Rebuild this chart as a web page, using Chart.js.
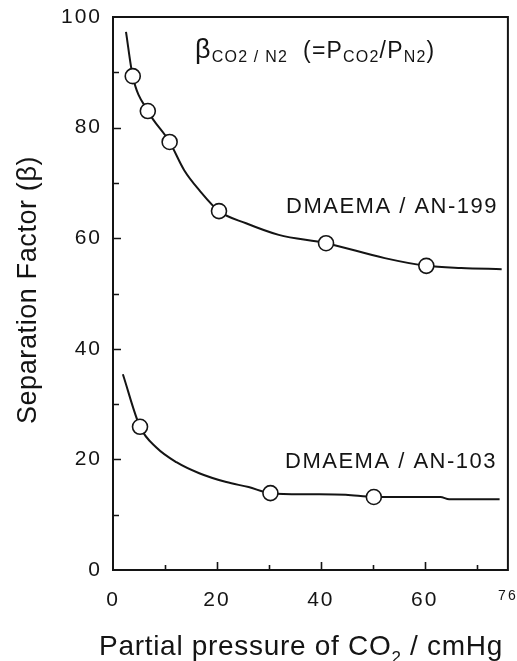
<!DOCTYPE html>
<html>
<head>
<meta charset="utf-8">
<title>Separation factor vs CO2 partial pressure</title>
<script src="https://cdn.jsdelivr.net/npm/chart.js@4"></script>
<style>
  html, body { margin: 0; padding: 0; background: #fff; }
  canvas { display: block; }
</style>
</head>
<body>
<canvas id="betaChart" width="517" height="661"></canvas>
<script>
// ============================================================
// DATA
// ============================================================

// DMAEMA / AN-199 : fitted curve and measured points
const an199CurveX = [2.5, 3.8, 6.7, 10.9, 13.7, 16.6, 20.4, 25.6, 31.9, 41.0, 52.3, 60.3, 67.0, 74.8];
const an199CurveY = [97.3, 89.3, 83.0, 77.4, 72.3, 68.7, 64.9, 62.7, 60.6, 59.1, 56.4, 55.0, 54.6, 54.4];
const an199PointX = [3.8, 6.7, 10.9, 20.4, 41.0, 60.3];
const an199PointY = [89.3, 83.0, 77.4, 64.9, 59.1, 55.0];

// DMAEMA / AN-103 : fitted curve and measured points
const an103CurveX = [1.9, 5.2, 8.4, 12.2, 16.6, 21.8, 26.1, 30.3, 37.6, 44.8, 50.2, 63.0, 64.7, 74.4];
const an103CurveY = [35.4, 25.9, 22.1, 19.5, 17.5, 15.9, 15.0, 13.9, 13.7, 13.6, 13.2, 13.2, 12.8, 12.8];
const an103PointX = [5.2, 30.3, 50.2];
const an103PointY = [25.9, 13.9, 13.2];

// axis ticks
const xTickValues = [0, 10, 20, 30, 40, 50, 60, 70, 76];
const xTickLabels = ["0", "", "20", "", "40", "", "60", "", "76"];
const yTickLabels = { 0: "0", 20: "20", 40: "40", 60: "60", 80: "80", 100: "100" };


// ============================================================
// HELPERS
// ============================================================

const FONT = "'Liberation Sans', Arial, Helvetica, sans-serif";
const INK  = "#141414";

function toPoints(xs, ys) {
  return xs.map((x, i) => ({ x: x, y: ys[i] }));
}

// parts: [text, fontSize, baselineShift]
function drawRich(ctx, parts, x, y, spacing) {
  ctx.letterSpacing = spacing + "px";
  ctx.textAlign = "left";
  ctx.textBaseline = "alphabetic";
  let cx = x;
  parts.forEach(([text, size, dy]) => {
    ctx.font = size + "px " + FONT;
    ctx.fillText(text, cx, y + dy);
    cx += ctx.measureText(text).width;
  });
  return cx;
}

function richWidth(ctx, parts, spacing) {
  ctx.letterSpacing = spacing + "px";
  return parts.reduce((w, [text, size]) => {
    ctx.font = size + "px " + FONT;
    return w + ctx.measureText(text).width;
  }, 0);
}


// ============================================================
// PLUGIN: frame, inside ticks, titles, labels
// ============================================================

const figurePlugin = {
  id: "figure",
  beforeDraw(chart) {
    chart.ctx.letterSpacing = "2px";
  },
  afterDraw(chart) {
    const { ctx, chartArea: a, scales: { x, y } } = chart;
    ctx.save();

    // frame
    ctx.strokeStyle = INK;
    ctx.lineWidth = 2;
    ctx.strokeRect(a.left, a.top, a.right - a.left, a.bottom - a.top);

    // inside tick marks
    ctx.lineWidth = 1.6;
    ctx.beginPath();
    x.ticks.forEach(t => {
      if (t.value <= 0 || t.value >= 76) return;
      const px = Math.round(x.getPixelForValue(t.value)) + 0.5;
      const len = t.value % 20 === 0 ? 8 : 5;
      ctx.moveTo(px, a.bottom);
      ctx.lineTo(px, a.bottom - len);
    });
    y.ticks.forEach(t => {
      if (t.value <= 0 || t.value >= 100) return;
      const py = Math.round(y.getPixelForValue(t.value)) + 0.5;
      const len = t.value % 20 === 0 ? 8 : 6;
      ctx.moveTo(a.left, py);
      ctx.lineTo(a.left + len, py);
    });
    ctx.stroke();

    ctx.fillStyle = INK;

    // title inside plot
    let cx = drawRich(ctx, [["β", 27, 0], ["CO2 / N2", 16, 4]], 195, 58, 1.2);
    drawRich(ctx, [
      ["(=P", 23, 0], ["CO2", 16, 4], ["/P", 23, 0], ["N2", 16, 4], [")", 23, 0]
    ], cx + 15, 58, 1.2);

    // series labels
    ctx.letterSpacing = "1.5px";
    ctx.font = "22px " + FONT;
    ctx.textAlign = "left";
    ctx.textBaseline = "alphabetic";
    ctx.fillText("DMAEMA / AN-199", 286, 213);
    ctx.fillText("DMAEMA / AN-103", 285, 468);

    // x axis title
    const xt = [["Partial pressure of CO", 28, 0], ["2", 17, 8], [" / cmHg", 28, 0]];
    const w = richWidth(ctx, xt, 0.7);
    drawRich(ctx, xt, 301 - w / 2, 655, 0.7);

    // y axis title
    ctx.save();
    ctx.translate(36, 290);
    ctx.rotate(-Math.PI / 2);
    ctx.letterSpacing = "0.6px";
    ctx.font = "27px " + FONT;
    ctx.textAlign = "center";
    ctx.textBaseline = "alphabetic";
    ctx.fillText("Separation Factor (β)", 0, 0);
    ctx.restore();

    ctx.restore();
  }
};


// ============================================================
// CHART
// ============================================================

const lineStyle = {
  type: "line",
  borderColor: INK,
  borderWidth: 2,
  pointRadius: 0,
  fill: false,
  cubicInterpolationMode: "monotone",
  order: 2,
};

const pointStyle = {
  type: "line",
  showLine: false,
  pointRadius: 7.5,
  pointBackgroundColor: "#fff",
  pointBorderColor: INK,
  pointBorderWidth: 1.6,
  order: 1,
};

new Chart(document.getElementById("betaChart"), {
  type: "line",
  data: {
    datasets: [
      { ...pointStyle, label: "AN-199 data", data: toPoints(an199PointX, an199PointY) },
      { ...pointStyle, label: "AN-103 data", data: toPoints(an103PointX, an103PointY) },
      { ...lineStyle,  label: "AN-199 fit",  data: toPoints(an199CurveX, an199CurveY) },
      { ...lineStyle,  label: "AN-103 fit",  data: toPoints(an103CurveX, an103CurveY) },
    ]
  },
  options: {
    responsive: false,
    animation: false,
    devicePixelRatio: 1,
    layout: { padding: { left: 0, right: 6, top: 17, bottom: 0 } },
    plugins: {
      legend:  { display: false },
      tooltip: { enabled: false },
    },
    scales: {
      x: {
        type: "linear",
        min: 0,
        max: 76,
        grid:   { display: false, drawTicks: false },
        border: { display: false },
        afterBuildTicks: s => { s.ticks = xTickValues.map(v => ({ value: v })); },
        afterFit: s => { s.height = 91; s.paddingLeft = 0; s.paddingRight = 0; },
        ticks: {
          autoSkip: false,
          maxRotation: 0,
          padding: 18,
          color: INK,
          font: ctx => ({ family: FONT, size: ctx.tick && ctx.tick.value === 76 ? 14 : 21 }),
          callback: (v, i) => xTickLabels[i],
        }
      },
      y: {
        type: "linear",
        min: 0,
        max: 100,
        grid:   { display: false, drawTicks: false },
        border: { display: false },
        afterFit: s => { s.width = 113; s.paddingTop = 0; s.paddingBottom = 0; },
        ticks: {
          stepSize: 10,
          autoSkip: false,
          padding: 11,
          color: INK,
          font: { family: FONT, size: 21 },
          callback: v => yTickLabels[v] !== undefined ? yTickLabels[v] : "",
        }
      }
    }
  },
  plugins: [figurePlugin]
});
</script>
</body>
</html>
